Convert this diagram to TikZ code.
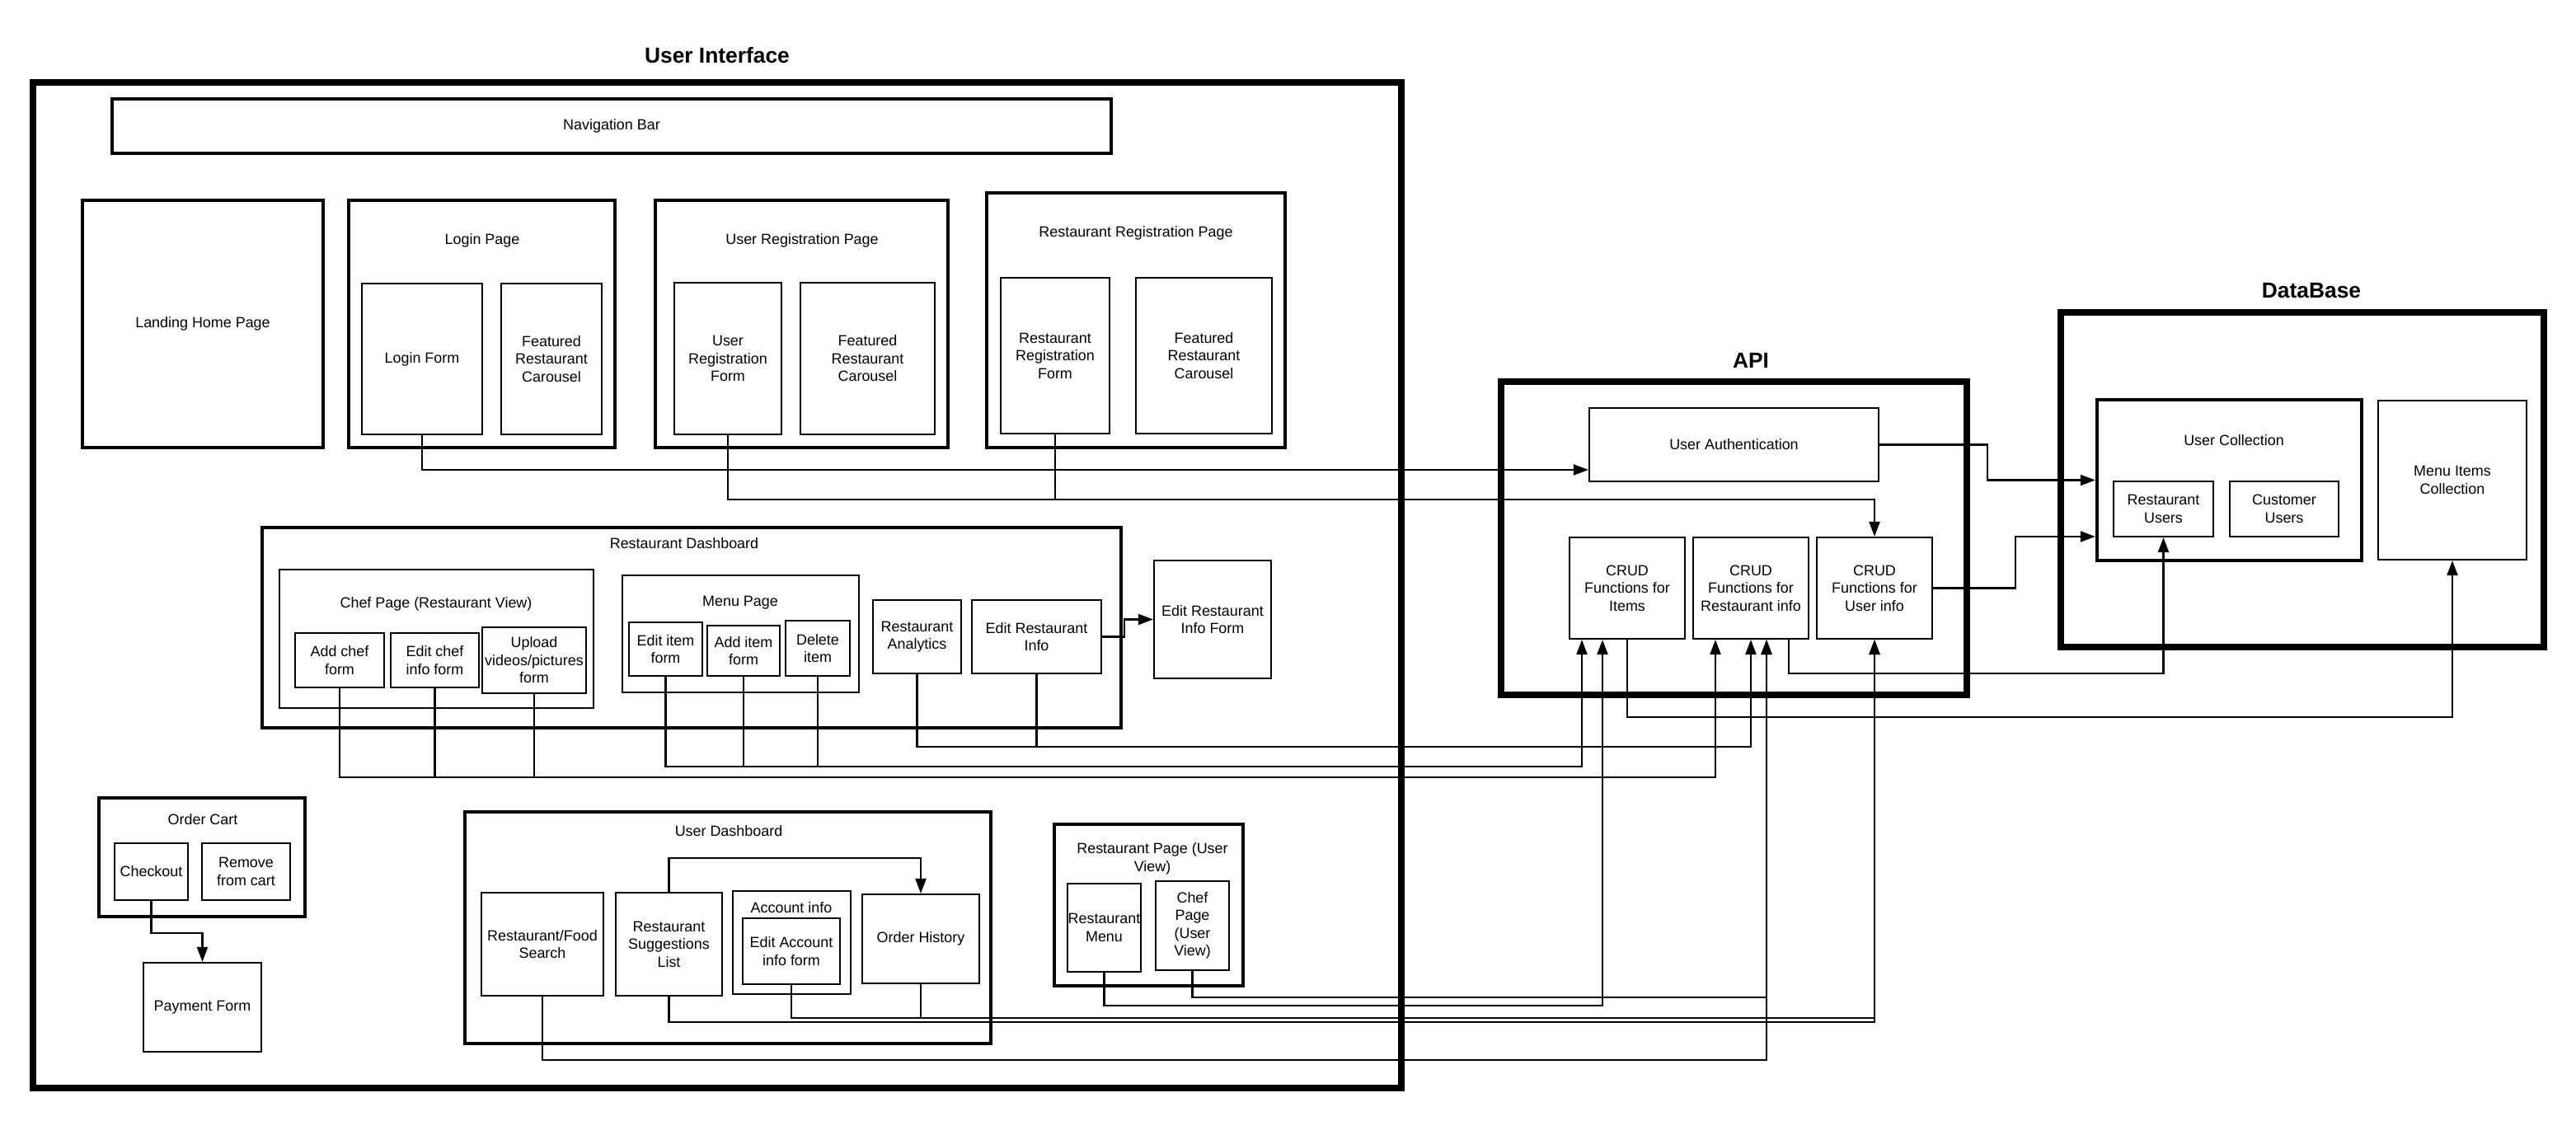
\documentclass[tikz,border=0pt]{standalone}
\usepackage{fontspec}
\setmainfont{Liberation Sans}
\usetikzlibrary{arrows.meta, positioning}
\tikzstyle{flow} = [line width=0.6pt]

\begin{document}
\begin{tikzpicture}[
        x=1cm, y=-1cm,
        >={Triangle[length=1.8mm,width=1.3mm]},
        every node/.style={font=\fontsize{5.1}{6.1}\selectfont, align=center, inner sep=0pt},
        itembox/.style={draw, line width=0.6pt},
        pagebox/.style={draw, line width=1.25pt},
        tierbox/.style={draw, line width=2.3pt},
        tiertitle/.style={font=\fontsize{7.5}{9}\selectfont\bfseries}
    ]
        \useasboundingbox (0,0) rectangle (31.25,13.6);

        % user interface
        \node[tierbox, minimum width=16.6cm, minimum height=12.2cm] (ui) at (8.70,7.10) {};
        \node[tiertitle] (uititle) at (8.70,0.67) {User Interface};
        \node[pagebox, minimum width=12.12cm, minimum height=0.66cm] (navbar) at (7.42,1.53) {Navigation Bar};

        \node[pagebox, minimum width=2.92cm, minimum height=3.0cm] (landing) at (2.46,3.93) {Landing Home Page};

        \node[pagebox, minimum width=3.23cm, minimum height=3.0cm] (loginpage) at (5.845,3.93) {};
        \node (loginpagetitle) at (5.85,2.92) {Login Page};
        \node[itembox, minimum width=1.46cm, minimum height=1.83cm] (loginform) at (5.12,4.355) {Login Form};
        \node[itembox, minimum width=1.22cm, minimum height=1.83cm] (logincarousel) at (6.69,4.355) {Featured\\Restaurant\\Carousel};

        \node[pagebox, minimum width=3.55cm, minimum height=3.0cm] (userregpage) at (9.725,3.93) {};
        \node (userregtitle) at (9.73,2.92) {User Registration Page};
        \node[itembox, minimum width=1.30cm, minimum height=1.84cm] (userregform) at (8.83,4.35) {User\\Registration\\Form};
        \node[itembox, minimum width=1.63cm, minimum height=1.84cm] (userregcarousel) at (10.525,4.35) {Featured\\Restaurant\\Carousel};

        \node[pagebox, minimum width=3.62cm, minimum height=3.09cm] (restregpage) at (13.78,3.885) {};
        \node (restregtitle) at (13.78,2.83) {Restaurant Registration Page};
        \node[itembox, minimum width=1.32cm, minimum height=1.89cm] (restregform) at (12.80,4.315) {Restaurant\\Registration\\Form};
        \node[itembox, minimum width=1.65cm, minimum height=1.89cm] (restregcarousel) at (14.605,4.315) {Featured\\Restaurant\\Carousel};

        % restaurant dashboard
        \node[pagebox, minimum width=10.42cm, minimum height=2.43cm] (restdash) at (8.39,7.615) {};
        \node (restdashtitle) at (8.30,6.59) {Restaurant Dashboard};
        \node[itembox, minimum width=3.81cm, minimum height=1.68cm] (chefpage) at (5.295,7.75) {};
        \node (chefpagetitle) at (5.29,7.33) {Chef Page (Restaurant View)};
        \node[itembox, minimum width=1.08cm, minimum height=0.66cm] (addchef) at (4.12,8.01) {Add chef\\form};
        \node[itembox, minimum width=1.07cm, minimum height=0.66cm] (editchef) at (5.275,8.01) {Edit chef\\info form};
        \node[itembox, minimum width=1.26cm, minimum height=0.80cm] (upload) at (6.48,8.01) {Upload\\videos/pictures\\form};
        \node[itembox, minimum width=2.87cm, minimum height=1.42cm] (menupage) at (8.985,7.69) {};
        \node (menupagetitle) at (8.98,7.31) {Menu Page};
        \node[itembox, minimum width=0.89cm, minimum height=0.65cm] (edititem) at (8.075,7.875) {Edit item\\form};
        \node[itembox, minimum width=0.88cm, minimum height=0.61cm] (additem) at (9.02,7.895) {Add item\\form};
        \node[itembox, minimum width=0.78cm, minimum height=0.67cm] (deleteitem) at (9.92,7.865) {Delete\\item};
        \node[itembox, minimum width=1.07cm, minimum height=0.89cm] (analytics) at (11.125,7.725) {Restaurant\\Analytics};
        \node[itembox, minimum width=1.57cm, minimum height=0.89cm] (editrest) at (12.575,7.725) {Edit Restaurant\\Info};
        \node[itembox, minimum width=1.42cm, minimum height=1.43cm] (editrestform) at (14.71,7.515) {Edit Restaurant\\Info Form};

        % order cart
        \node[pagebox, minimum width=2.50cm, minimum height=1.44cm] (ordercart) at (2.45,10.40) {};
        \node (ordercarttitle) at (2.46,9.94) {Order Cart};
        \node[itembox, minimum width=0.89cm, minimum height=0.69cm] (checkout) at (1.835,10.575) {Checkout};
        \node[itembox, minimum width=1.07cm, minimum height=0.69cm] (removecart) at (2.985,10.575) {Remove\\from cart};
        \node[itembox, minimum width=1.43cm, minimum height=1.08cm] (payment) at (2.455,12.22) {Payment Form};

        % user dashboard
        \node[pagebox, minimum width=6.38cm, minimum height=2.81cm] (userdash) at (8.83,11.255) {};
        \node (userdashtitle) at (8.84,10.08) {User Dashboard};
        \node[itembox, minimum width=1.48cm, minimum height=1.25cm] (search) at (6.58,11.455) {Restaurant/Food\\Search};
        \node[itembox, minimum width=1.29cm, minimum height=1.25cm] (suggest) at (8.115,11.455) {Restaurant\\Suggestions\\List};
        \node[itembox, minimum width=1.43cm, minimum height=1.25cm] (accountinfo) at (9.605,11.435) {};
        \node (accountinfotitle) at (9.60,11.01) {Account info};
        \node[itembox, line width=0.8pt, minimum width=1.18cm, minimum height=0.80cm] (editaccount) at (9.60,11.54) {Edit Account\\info form};
        \node[itembox, minimum width=1.42cm, minimum height=1.08cm] (orderhist) at (11.17,11.39) {Order History};

        % restaurant page for users
        \node[pagebox, minimum width=2.29cm, minimum height=1.96cm] (restpageuser) at (13.935,10.98) {};
        \node (restpageusertitle) at (13.98,10.42) {Restaurant Page (User\\View)};
        \node[itembox, minimum width=0.89cm, minimum height=1.07cm] (restmenu) at (13.395,11.255) {Restaurant\\Menu};
        \node[itembox, minimum width=0.89cm, minimum height=1.08cm] (chefuser) at (14.465,11.23) {Chef\\Page\\(User\\View)};

        % api
        \node[tierbox, minimum width=5.65cm, minimum height=3.80cm] (api) at (21.035,6.53) {};
        \node[tiertitle] (apititle) at (21.24,4.37) {API};
        \node[itembox, minimum width=3.51cm, minimum height=0.89cm] (userauth) at (21.035,5.395) {User Authentication};
        \node[itembox, minimum width=1.40cm, minimum height=1.23cm] (cruditems) at (19.74,7.135) {CRUD\\Functions for\\Items};
        \node[itembox, minimum width=1.40cm, minimum height=1.23cm] (crudrest) at (21.24,7.135) {CRUD\\Functions for\\Restaurant info};
        \node[itembox, minimum width=1.40cm, minimum height=1.23cm] (cruduser) at (22.74,7.135) {CRUD\\Functions for\\User info};

        % database
        \node[tierbox, minimum width=5.86cm, minimum height=4.06cm] (db) at (27.93,5.82) {};
        \node[tiertitle] (dbtitle) at (28.04,3.53) {DataBase};
        \node[pagebox, minimum width=3.21cm, minimum height=1.95cm] (usercoll) at (27.045,5.825) {};
        \node (usercolltitle) at (27.10,5.34) {User Collection};
        \node[itembox, minimum width=1.21cm, minimum height=0.67cm] (restusers) at (26.245,6.175) {Restaurant\\Users};
        \node[itembox, minimum width=1.32cm, minimum height=0.67cm] (custusers) at (27.71,6.175) {Customer\\Users};
        \node[itembox, minimum width=1.80cm, minimum height=1.93cm] (menucoll) at (29.75,5.825) {Menu Items\\Collection};

        % entry points and bus levels
        \coordinate (authin) at ([yshift=-3.05mm]userauth.west);
        \coordinate (collin) at ([yshift=-6.85mm]usercoll.west);
        \coordinate (menuin) at ([xshift=-5.5mm]cruditems.south);
        \coordinate (rmenuin) at ([xshift=-3mm]cruditems.south);
        \coordinate (chefin) at ([xshift=-4.3mm]crudrest.south);
        \coordinate (userviewin) at ([xshift=1.9mm]crudrest.south);
        \coordinate (restout) at ([xshift=4.6mm]crudrest.south);
        \coordinate (regbus) at (0,6.06);
        \coordinate (dashbus) at (0,9.06);
        \coordinate (menubus) at (0,9.30);
        \coordinate (chefbus) at (0,9.43);
        \coordinate (chefuserbus) at (0,12.10);
        \coordinate (rmenubus) at (0,12.20);
        \coordinate (accountbus) at (0,12.35);
        \coordinate (suggestbus) at (0,12.40);
        \coordinate (searchbus) at (0,12.86);

        \draw[flow,->] (loginform.south) |- (authin);
        \draw[flow,->] (userregform.south) |- (cruduser.north |- regbus) -- (cruduser.north);
        \draw[flow] (restregform.south) -- (restregform.south |- regbus);
        \draw[flow,->] (userauth.east) -- ++(1.31,0) |- (usercoll.west);
        \draw[flow,->] (cruduser.east) -- ++(1.00,0) |- (collin);
        \draw[flow,->] (restout) -- ++(0,0.41) -| (restusers.south);
        \draw[flow,->] (cruditems.south) -- ++(0,0.94) -| (menucoll.south);
        \draw[flow,->] (editrest.east) -- ++(0.27,0) |- (editrestform.west);

        \draw[flow,->] (analytics.south) |- (crudrest.south |- dashbus) -- (crudrest.south);
        \draw[flow] (editrest.south) -- (editrest.south |- dashbus);
        \draw[flow,->] (edititem.south) |- (menuin |- menubus) -- (menuin);
        \draw[flow] (additem.south) -- (additem.south |- menubus);
        \draw[flow] (deleteitem.south) -- (deleteitem.south |- menubus);
        \draw[flow,->] (addchef.south) |- (chefin |- chefbus) -- (chefin);
        \draw[flow] (editchef.south) -- (editchef.south |- chefbus);
        \draw[flow] (upload.south) -- (upload.south |- chefbus);

        \draw[flow,->] (checkout.south) -- ++(0,0.39) -| (payment.north);
        \draw[flow,->] (suggest.north) -- ++(0,-0.41) -| (orderhist.north);
        \draw[flow,->] (search.south) |- (userviewin |- searchbus) -- (userviewin);
        \draw[flow,->] (suggest.south) |- (cruduser.south |- suggestbus) -- (cruduser.south);
        \draw[flow,->] (editaccount.south) |- (cruduser.south |- accountbus) -- (cruduser.south);
        \draw[flow] (orderhist.south) -- (orderhist.south |- accountbus);
        \draw[flow,->] (restmenu.south) |- (rmenuin |- rmenubus) -- (rmenuin);
        \draw[flow,->] (chefuser.south) |- (userviewin |- chefuserbus) -- (userviewin);
    \end{tikzpicture}
\end{document}
